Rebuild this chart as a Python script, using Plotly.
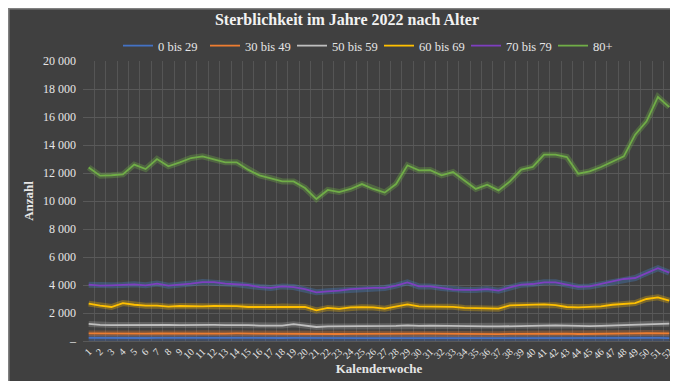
import plotly.graph_objects as go

weeks = list(range(1, 53))

s_0_29 = [220, 210, 215, 210, 220, 215, 225, 220, 215, 220, 225, 220, 215, 220, 215, 210, 210, 215, 220, 210,
          200, 205, 205, 210, 210, 205, 200, 210, 215, 210, 210, 205, 205, 200, 200, 200, 200, 205, 210, 210,
          215, 210, 205, 200, 200, 205, 210, 210, 215, 220, 225, 210]
s_30_49 = [540, 530, 520, 530, 540, 530, 550, 540, 530, 540, 550, 540, 530, 540, 530, 520, 520, 530, 540, 510,
           480, 500, 500, 510, 520, 510, 500, 520, 540, 520, 520, 510, 510, 500, 490, 500, 490, 510, 520, 520,
           530, 530, 520, 500, 500, 510, 520, 530, 540, 560, 570, 540]
s_50_59 = [1220, 1150, 1140, 1150, 1160, 1140, 1170, 1150, 1130, 1150, 1160, 1150, 1140, 1150, 1130, 1100, 1090, 1100, 1200, 1080,
           1000, 1040, 1040, 1060, 1080, 1060, 1040, 1080, 1120, 1080, 1100, 1080, 1070, 1050, 1040, 1050, 1040, 1060, 1090, 1100,
           1120, 1110, 1100, 1060, 1060, 1080, 1110, 1150, 1200, 1230, 1250, 1240]
s_60_69 = [2670, 2520, 2430, 2710, 2590, 2520, 2530, 2450, 2500, 2480, 2470, 2500, 2500, 2490, 2430, 2440, 2430, 2460, 2450, 2430,
           2190, 2360, 2290, 2400, 2410, 2400, 2310, 2480, 2620, 2470, 2470, 2470, 2440, 2360, 2340, 2360, 2310, 2550, 2560, 2600,
           2620, 2560, 2430, 2400, 2440, 2480, 2590, 2670, 2710, 3000, 3120, 2880]
s_70_79 = [4020, 3950, 3980, 4000, 4050, 3980, 4100, 3950, 4000, 4100, 4210, 4200, 4100, 4050, 4000, 3850, 3790, 3900, 3850, 3700,
           3480, 3550, 3600, 3710, 3760, 3790, 3790, 3950, 4190, 3900, 3900, 3790, 3670, 3650, 3650, 3710, 3600, 3830, 4020, 4070,
           4190, 4190, 4020, 3860, 3900, 4070, 4260, 4430, 4500, 4860, 5200, 4880]
s_80 = [12400, 11810, 11840, 11900, 12600, 12280, 13000, 12480, 12760, 13070, 13190, 13000, 12760, 12760, 12240, 11830, 11640, 11400, 11400, 10930,
        10140, 10790, 10640, 10860, 11210, 10860, 10600, 11210, 12550, 12190, 12210, 11830, 12070, 11450, 10860, 11170, 10760, 11400, 12240, 12430,
        13310, 13310, 13140, 11950, 12120, 12430, 12790, 13190, 14740, 15690, 17430, 16710]

series_names = ["0 bis 29", "30 bis 49", "50 bis 59", "60 bis 69", "70 bis 79", "80+"]
series_values = [s_0_29, s_30_49, s_50_59, s_60_69, s_70_79, s_80]
series_colors = ["#4472C4", "#ED7D31", "#BFBFBF", "#FFC000", "#7E3FBF", "#70AD47"]
glow_colors = ["rgba(68,114,196,0.30)", "rgba(237,125,49,0.30)", "rgba(191,191,191,0.25)",
               "rgba(255,192,0,0.30)", "rgba(70,130,200,0.35)", "rgba(112,173,71,0.35)"]

y_tick_vals = [0, 2000, 4000, 6000, 8000, 10000, 12000, 14000, 16000, 18000, 20000]
y_tick_text = ["–", "2 000", "4 000", "6 000", "8 000", "10 000", "12 000", "14 000", "16 000", "18 000", "20 000"]

FONT = "Liberation Serif"
W, H = 678, 381
ML, MR, MT, MB = 75, 11, 53, 48
PW, PH = W - ML - MR, H - MT - MB

fig = go.Figure()

for name, vals, col, glow in zip(series_names, series_values, series_colors, glow_colors):
    fig.add_trace(go.Scatter(x=weeks, y=vals, mode="lines", line=dict(color=glow, width=6),
                             showlegend=False, hoverinfo="skip"))
for name, vals, col in zip(series_names, series_values, series_colors):
    fig.add_trace(go.Scatter(x=weeks, y=vals, mode="lines", name=name, line=dict(color=col, width=1.8)))

fig.update_layout(
    width=W, height=H,
    paper_bgcolor="#404040", plot_bgcolor="#404040",
    margin=dict(l=ML, r=MR, t=MT, b=MB),
    font=dict(family=FONT, color="#E6E6E6", size=12),
    title=dict(text="<b>Sterblichkeit im Jahre 2022 nach Alter</b>", x=0.5, xanchor="center",
               y=0.985, yanchor="top", font=dict(size=16, color="#F2F2F2", family=FONT)),
    legend=dict(orientation="h", x=0.5, xanchor="center", y=1.0, yanchor="bottom",
                font=dict(size=12.5, color="#E6E6E6"), bgcolor="rgba(0,0,0,0)",
                entrywidth=42, entrywidthmode="pixels"),
    xaxis=dict(range=[0.5, 52.5], tickvals=weeks, ticktext=[str(w) for w in weeks],
               tickangle=-45, tickfont=dict(size=10, color="#E6E6E6"),
               showgrid=False, zeroline=False, showline=True, linecolor="#595959",
               minor=dict(dtick=1, tick0=0.5, showgrid=True, gridcolor="#555555", gridwidth=1),
               title=dict(text="<b>Kalenderwoche</b>", font=dict(size=13, color="#E6E6E6"), standoff=2)),
    yaxis=dict(range=[0, 20000], tickvals=y_tick_vals, ticktext=y_tick_text,
               tickfont=dict(size=12, color="#E6E6E6"), showgrid=True, gridcolor="#595959",
               zeroline=False, showline=False, ticklabelstandoff=6,
               title=dict(text="<b>Anzahl</b>", font=dict(size=13, color="#E6E6E6"), standoff=6)),
    shapes=[dict(type="rect", xref="paper", yref="paper",
                 x0=-ML / PW + 0.001, x1=1 + MR / PW - 0.001,
                 y0=-MB / PH + 0.002, y1=1 + MT / PH - 0.002,
                 line=dict(color="#808080", width=2), fillcolor="rgba(0,0,0,0)", layer="below")],
)

fig.write_html("out.html")
